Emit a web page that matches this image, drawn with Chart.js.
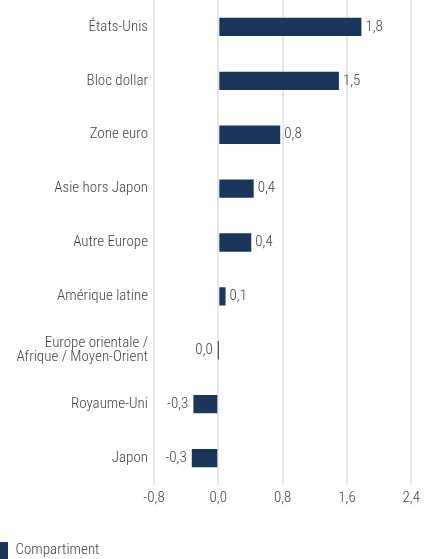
<!DOCTYPE html>
<html lang="fr">
<head>
<meta charset="UTF-8">
<title>Compartiment</title>
<script src="https://cdn.jsdelivr.net/npm/chart.js"></script>
<style>
    html, body { margin: 0; padding: 0; background: #fff; }
    #wrap { width: 424px; height: 559px; }
</style>
</head>
<body>
<div id="wrap"><canvas id="barChart"></canvas></div>
<script>
    const categories = [
        'États-Unis', 'Bloc dollar', 'Zone euro', 'Asie hors Japon', 'Autre Europe',
        'Amérique latine', ['Europe orientale /', 'Afrique / Moyen-Orient'], 'Royaume-Uni', 'Japon'
    ];
    const valeurs = [1.78, 1.50, 0.77, 0.44, 0.41, 0.09, 0.0, -0.31, -0.33];
    const libelles = ['1,8', '1,5', '0,8', '0,4', '0,4', '0,1', '0,0', '-0,3', '-0,3'];
    const ticksX = [-0.8, 0, 0.8, 1.6, 2.4];

    const police = '"Roboto Condensed", "Liberation Sans Narrow", sans-serif';
    const gris = '#444444';
    const bleu = '#1b365d';

    // étiquettes de valeurs à côté des barres
    const valeursPlugin = {
        id: 'valeurs',
        afterLayout(chart) {
            // descend la légende tout en bas
            chart.legend.top += 10;
            chart.legend.bottom += 10;
        },
        afterDatasetsDraw(chart) {
            const ctx = chart.ctx;
            const meta = chart.getDatasetMeta(0);
            ctx.save();
            ctx.font = '300 15px ' + police;
            ctx.fillStyle = gris;
            ctx.textBaseline = 'middle';
            meta.data.forEach((bar, i) => {
                const v = valeurs[i];
                if (v > 0) {
                    ctx.textAlign = 'left';
                    ctx.fillText(libelles[i], Math.max(bar.x, bar.base) + 4, bar.y);
                } else {
                    ctx.textAlign = 'right';
                    ctx.fillText(libelles[i], Math.min(bar.x, bar.base) - 5, bar.y);
                }
            });
            ctx.restore();
        }
    };

    new Chart(document.getElementById('barChart'), {
        type: 'bar',
        data: {
            labels: categories,
            datasets: [{
                label: 'Compartiment',
                data: valeurs,
                backgroundColor: bleu,
                borderWidth: 0,
                barPercentage: 0.34,
                categoryPercentage: 1,
                minBarLength: 1
            }]
        },
        options: {
            indexAxis: 'y',
            responsive: true,
            maintainAspectRatio: false,
            animation: false,
            layout: { padding: { left: 0, right: 10, top: 0, bottom: 0 } },
            scales: {
                x: {
                    min: -0.8,
                    max: 2.4,
                    afterBuildTicks: (scale) => { scale.ticks = ticksX.map(v => ({ value: v })); },
                    afterFit: (scale) => { scale.height = 47; },
                    grid: { color: '#e8e8e8', lineWidth: 2, drawTicks: false },
                    border: { display: false },
                    ticks: {
                        padding: 4,
                        color: gris,
                        font: { family: police, size: 15, weight: 300 },
                        callback: (v) => v.toFixed(1).replace('.', ',')
                    }
                },
                y: {
                    grid: { display: false, drawTicks: false },
                    border: { display: false },
                    afterFit: (scale) => {
                        scale.width = 154;
                        scale.paddingTop = 0;
                        scale.paddingBottom = 0;
                    },
                    ticks: {
                        padding: 6,
                        color: gris,
                        font: { family: police, size: 15, weight: 300, lineHeight: 0.95 }
                    }
                }
            },
            plugins: {
                legend: {
                    position: 'bottom',
                    align: 'start',
                    labels: {
                        boxWidth: 8,
                        boxHeight: 17,
                        padding: 0,
                        color: gris,
                        font: { family: police, size: 15, weight: 300 }
                    }
                },
                tooltip: { enabled: false }
            }
        },
        plugins: [valeursPlugin]
    });
</script>
</body>
</html>
